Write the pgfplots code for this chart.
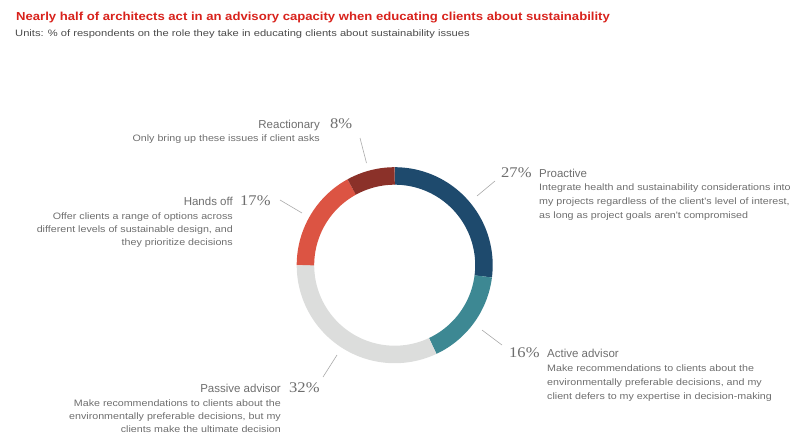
\documentclass[border=0pt]{standalone}
\usepackage{pgfplots}
\pgfplotsset{compat=1.18}
\usepackage{fontspec}
\setmainfont{Liberation Sans}
\newfontfamily\titlefont{Liberation Sans}[FakeStretch=1.13]
\newfontfamily\subfont{Liberation Sans}[FakeStretch=1.2]
\newfontfamily\descfont{Liberation Sans}[FakeStretch=1.15]
\newfontfamily\numfont{Liberation Serif}[FakeStretch=1.12]
\definecolor{titlered}{HTML}{D8221C}
\definecolor{subgray}{HTML}{4A4A4A}
\definecolor{labgray}{HTML}{6E6E6E}
\definecolor{navy}{HTML}{1E4A6D}
\definecolor{teal}{HTML}{3D8893}
\definecolor{ringgray}{HTML}{DCDDDC}
\definecolor{orred}{HTML}{DC5443}
\definecolor{darkred}{HTML}{8B3129}
\definecolor{leader}{HTML}{AAAAAA}
\tikzset{
  lab/.style={inner sep=0, text=labgray, font=\fontsize{11.5bp}{13bp}\selectfont},
  pct/.style={inner sep=0, text=labgray, font=\fontsize{14.8bp}{16bp}\selectfont\numfont},
  desc/.style={inner sep=0, text=labgray, font=\fontsize{9.3bp}{11bp}\selectfont\descfont},
}
\begin{document}
\begin{tikzpicture}
% data: share of respondents (%)
\def\pProactive{27}
\def\pActive{16}
\def\pPassive{32}
\def\pHands{17}
\def\pReact{8}
\pgfmathsetmacro{\aA}{90}
\pgfmathsetmacro{\aB}{\aA-3.6*\pProactive}
\pgfmathsetmacro{\aC}{\aB-3.6*\pActive}
\pgfmathsetmacro{\aD}{\aC-3.6*\pPassive}
\pgfmathsetmacro{\aE}{\aD-3.6*\pHands}
\pgfmathsetmacro{\aF}{\aE-3.6*\pReact}
\def\cx{394.7}
\def\cy{265.2}
\def\rr{89.25}
\begin{axis}[scale only axis, width=800bp, height=447bp,
  xmin=0, xmax=800, ymin=0, ymax=447, y dir=reverse,
  hide axis, clip=false]
\addplot[draw=navy, line width=17.5bp, line cap=butt, domain=\aA:\aB, samples=80, mark=none] ({\cx+\rr*cos(x)},{\cy-\rr*sin(x)});
\addplot[draw=teal, line width=17.5bp, line cap=butt, domain=\aB:\aC, samples=60, mark=none] ({\cx+\rr*cos(x)},{\cy-\rr*sin(x)});
\addplot[draw=ringgray, line width=17.5bp, line cap=butt, domain=\aC:\aD, samples=90, mark=none] ({\cx+\rr*cos(x)},{\cy-\rr*sin(x)});
\addplot[draw=orred, line width=17.5bp, line cap=butt, domain=\aD:\aE, samples=60, mark=none] ({\cx+\rr*cos(x)},{\cy-\rr*sin(x)});
\addplot[draw=darkred, line width=17.5bp, line cap=butt, domain=\aE:\aF, samples=40, mark=none] ({\cx+\rr*cos(x)},{\cy-\rr*sin(x)});
% leader lines
\addplot[leader, line width=0.6bp, mark=none] coordinates {(360,138) (366.5,163)};
\addplot[leader, line width=0.6bp, mark=none] coordinates {(280,200) (302,213)};
\addplot[leader, line width=0.6bp, mark=none] coordinates {(477,196) (495,181)};
\addplot[leader, line width=0.6bp, mark=none] coordinates {(482,330) (502,345)};
\addplot[leader, line width=0.6bp, mark=none] coordinates {(337,355) (323,377)};
% title
\node[anchor=base west, inner sep=0, text=titlered, font=\fontsize{11.6bp}{13bp}\selectfont\titlefont\bfseries] at (axis cs:16,20.5) {Nearly half of architects act in an advisory capacity when educating clients about sustainability};
\node[anchor=base west, inner sep=0, text=subgray, font=\fontsize{9.3bp}{11bp}\selectfont\subfont] at (axis cs:15,37) {Units: \% of respondents on the role they take in educating clients about sustainability issues};
% Reactionary
\node[lab, anchor=base east] at (axis cs:320,128) {Reactionary};
\node[pct, anchor=base west] at (axis cs:330,128) {8\%};
\node[desc, anchor=base east] at (axis cs:320,141) {Only bring up these issues if client asks};
% Hands off
\node[lab, anchor=base east] at (axis cs:233,205) {Hands off};
\node[pct, anchor=base west] at (axis cs:240,205) {17\%};
\node[desc, anchor=base east] at (axis cs:233,219) {Offer clients a range of options across};
\node[desc, anchor=base east] at (axis cs:233,232) {different levels of sustainable design, and};
\node[desc, anchor=base east] at (axis cs:233,245) {they prioritize decisions};
% Proactive
\node[pct, anchor=base west] at (axis cs:501,177) {27\%};
\node[lab, anchor=base west] at (axis cs:539,177) {Proactive};
\node[desc, anchor=base west] at (axis cs:539,190.5) {Integrate health and sustainability considerations into};
\node[desc, anchor=base west] at (axis cs:539,204) {my projects regardless of the client's level of interest,};
\node[desc, anchor=base west] at (axis cs:539,218) {as long as project goals aren't compromised};
% Active advisor
\node[pct, anchor=base west] at (axis cs:509,357) {16\%};
\node[lab, anchor=base west] at (axis cs:547,357) {Active advisor};
\node[desc, anchor=base west] at (axis cs:547,371) {Make recommendations to clients about the};
\node[desc, anchor=base west] at (axis cs:547,385) {environmentally preferable decisions, and my};
\node[desc, anchor=base west] at (axis cs:547,399) {client defers to my expertise in decision-making};
% Passive advisor
\node[lab, anchor=base east] at (axis cs:281,392) {Passive advisor};
\node[pct, anchor=base west] at (axis cs:289,392) {32\%};
\node[desc, anchor=base east] at (axis cs:281,406) {Make recommendations to clients about the};
\node[desc, anchor=base east] at (axis cs:281,419) {environmentally preferable decisions, but my};
\node[desc, anchor=base east] at (axis cs:281,432) {clients make the ultimate decision};
\end{axis}
\pgfresetboundingbox
\path (current axis.south west) rectangle (current axis.north east);
\end{tikzpicture}
\end{document}
